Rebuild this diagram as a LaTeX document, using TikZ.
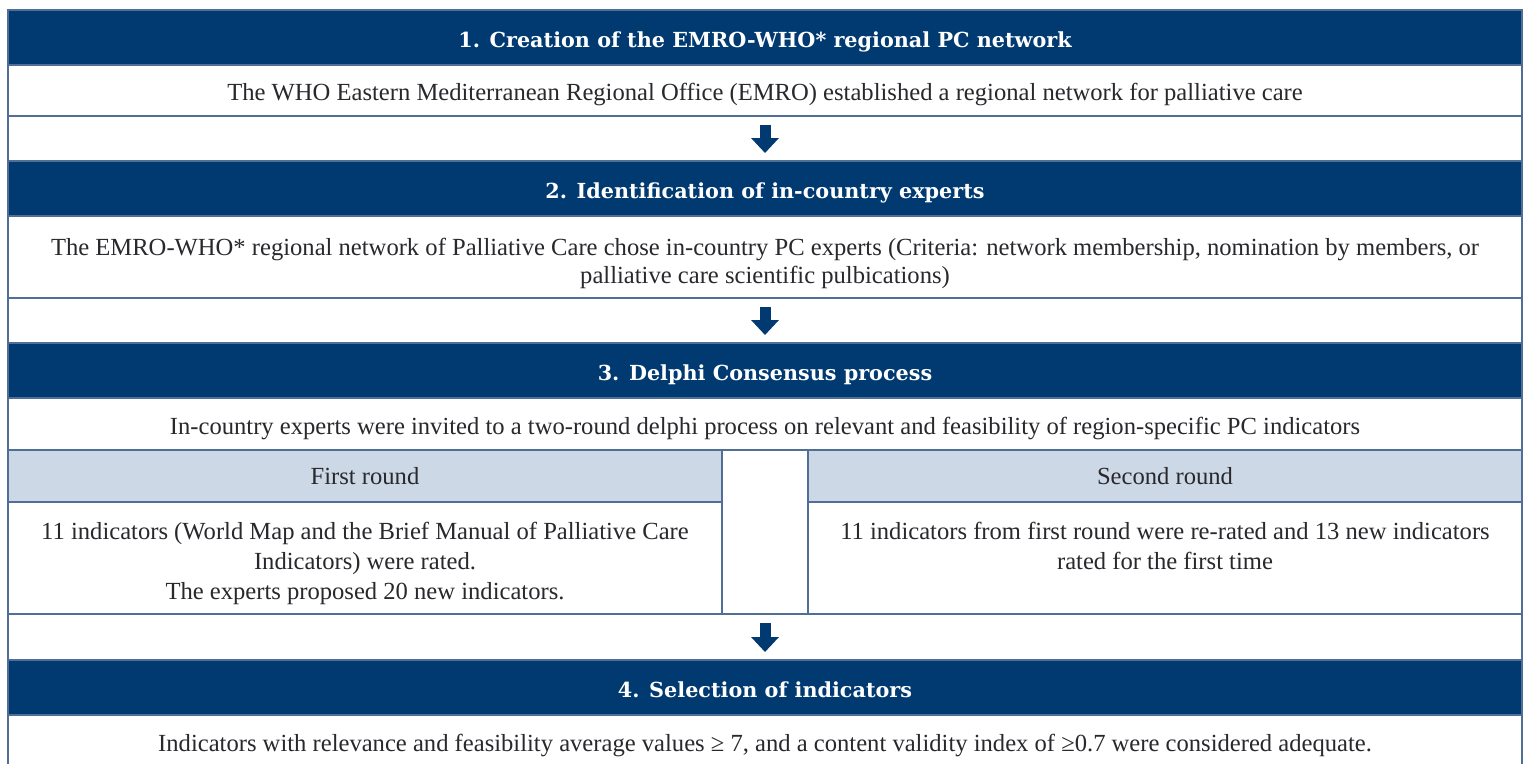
\documentclass[tikz,border=0pt]{standalone}
\usepackage{fontspec}
\setmainfont{Liberation Serif}
\newfontfamily\headfont{DejaVu Serif}
\usetikzlibrary{positioning,arrows.meta}
\definecolor{emroblue}{RGB}{0,58,112}
\definecolor{roundblue}{RGB}{205,216,230}
\definecolor{rulecol}{RGB}{80,110,150}
\definecolor{bodyink}{RGB}{40,40,45}
\begin{document}
\begin{tikzpicture}[
  stagerow/.style={draw=rulecol,line width=0.7pt,inner sep=0pt,outer sep=0pt,anchor=north west,minimum width=30.28cm},
  stagehead/.style={stagerow,fill=emroblue,text=white,minimum height=1.1cm,text height=0.4cm,text depth=0.02cm,font=\headfont\bfseries\fontsize{11.8}{14}\selectfont},
  stagetext/.style={stagerow,fill=white,text=bodyink,text height=0.42cm,text depth=0.02cm,font=\fontsize{14}{15.5}\selectfont},
  stagegap/.style={stagerow,fill=white,minimum height=0.9cm},
  roundbox/.style={draw=rulecol,line width=0.7pt,inner sep=0pt,outer sep=0pt,anchor=north west,minimum width=14.28cm,fill=white},
  roundhead/.style={roundbox,fill=roundblue,text=bodyink,minimum height=1.04cm,text height=0.34cm,text depth=0.02cm,font=\fontsize{14}{17}\selectfont},
  roundbody/.style={roundbox,minimum height=2.24cm},
  notes/.style={inner sep=0pt,outer sep=0pt,anchor=north,align=center,text=bodyink,font=\fontsize{14}{17}\selectfont},
  flow/.style={draw=emroblue,line width=0.22cm,-{Triangle[width=0.54cm,length=0.3cm]}}
]
\useasboundingbox (0,0) rectangle (30.6,-15.26);
% stage 1
\node[stagehead] (h1) at (0.16,-0.2) {1. Creation of the EMRO-WHO* regional PC network};
\node[stagetext,minimum height=1.02cm] (t1) at (h1.south west) {The WHO Eastern Mediterranean Regional Office (EMRO) established a regional network for palliative care};
\node[stagegap] (g1) at (t1.south west) {};
% stage 2
\node[stagehead] (h2) at (g1.south west) {2. Identification of in-country experts};
\node[stagegap,minimum height=1.64cm] (t2) at (h2.south west) {};
\node[notes,font=\fontsize{14}{15.5}\selectfont] (t2x) at ([yshift=-0.45cm]t2.north) {The EMRO-WHO* regional network of Palliative Care chose in-country PC experts (Criteria: network membership, nomination by members, or\\ palliative care scientific pulbications)};
\node[stagegap] (g2) at (t2.south west) {};
% stage 3
\node[stagehead] (h3) at (g2.south west) {3. Delphi Consensus process};
\node[stagetext,minimum height=1.04cm] (t3) at (h3.south west) {In-country experts were invited to a two-round delphi process on relevant and feasibility of region-specific PC indicators};
\node[roundhead] (r1h) at (t3.south west) {First round};
\node[roundbody] (r1b) at (r1h.south west) {};
\node[notes] (r1x) at ([yshift=-0.4cm]r1b.north) {11 indicators (World Map and the Brief Manual of Palliative Care\\ Indicators) were rated.\\ The experts proposed 20 new indicators.};
\node[roundbox,minimum width=1.72cm,minimum height=3.28cm] (mid) at (r1h.north east) {};
\node[roundhead] (r2h) at (mid.north east) {Second round};
\node[roundbody] (r2b) at (r2h.south west) {};
\node[notes] (r2x) at ([yshift=-0.4cm]r2b.north) {11 indicators from first round were re-rated and 13 new indicators\\ rated for the first time};
\node[stagegap,minimum height=0.92cm] (g3) at (r1b.south west) {};
% stage 4
\node[stagehead] (h4) at (g3.south west) {4. Selection of indicators};
\node[stagetext,minimum height=1.04cm] (t4) at (h4.south west) {Indicators with relevance and feasibility average values ≥ 7, and a content validity index of ≥0.7 were considered adequate.};
% arrows
\foreach \g in {g1,g2,g3}
  \draw[flow] ([yshift=-0.18cm]\g.north) -- ([yshift=0.16cm]\g.south);
\end{tikzpicture}
\end{document}
